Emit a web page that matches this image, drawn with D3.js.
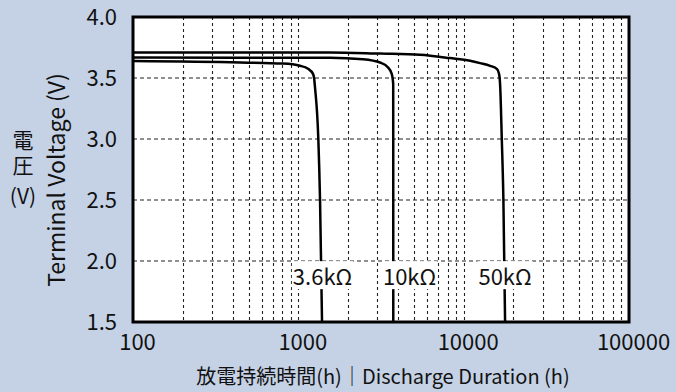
<!DOCTYPE html>
<html><head><meta charset="utf-8">
<script src="https://cdn.jsdelivr.net/npm/d3@7"></script>
<style>
html,body{margin:0;padding:0;background:#c5d1e5;}
svg{display:block;}
text{font-family:"Noto Sans CJK JP","Noto Sans",sans-serif;fill:#111;}
</style></head><body>
<svg id="c" width="676" height="392"></svg>
<script>
// ---- data ----
const xTicks = [100, 1000, 10000, 100000];
const xTickLabels = ["100", "1000", "10000", "100000"];
const yTicks = [1.5, 2.0, 2.5, 3.0, 3.5, 4.0];
const yTickLabels = ["1.5", "2.0", "2.5", "3.0", "3.5", "4.0"];
const gridHours = [200,300,400,500,600,700,800,900,1000,2000,3000,4000,5000,6000,7000,8000,9000,10000,20000,30000,40000,50000,60000,70000,80000,90000];
const gridVolts = [2.0, 2.5, 3.0, 3.5];
const seriesNames = ["3.6kΩ", "10kΩ", "50kΩ"];
const hours36k = [100, 444, 808, 1024, 1145, 1227, 1245, 1262, 1321, 1353, 1391];
const volts36k = [3.640, 3.628, 3.618, 3.600, 3.575, 3.534, 3.500, 3.420, 3.000, 2.500, 1.500];
const hours10k = [100, 444, 1555, 2463, 3121, 3488, 3673, 3748, 3750, 3752];
const volts10k = [3.669, 3.667, 3.667, 3.654, 3.627, 3.586, 3.534, 3.450, 3.000, 1.500];
const hours50k = [100, 444, 1555, 3121, 5447, 8277, 10932, 12568, 14443, 15924, 16375, 16606, 17006, 17390, 17806];
const volts50k = [3.710, 3.710, 3.710, 3.700, 3.690, 3.663, 3.641, 3.622, 3.600, 3.573, 3.532, 3.450, 3.000, 2.500, 1.500];
const labelHours = [1401, 4707, 17806];
const labelVolts = [1.884, 1.884, 1.884];
const xTitle = "放電持続時間(h)｜Discharge Duration (h)";
const yTitleEn = "Terminal Voltage (V)";
const yTitleJa = "電圧";
const yTitleUnit = "(V)";

// ---- layout ----
const L = 133, R = 629, T = 17, B = 322;
const svg = d3.select("#c");
const x = d3.scaleLog().domain([100, 100000]).range([L, R]);
const y = d3.scaleLinear().domain([1.5, 4.0]).range([B, T]);

svg.append("rect").attr("x", 0).attr("y", 0).attr("width", 676).attr("height", 392).attr("fill", "#c5d1e5");
svg.append("rect").attr("x", L).attr("y", T).attr("width", R - L).attr("height", B - T).attr("fill", "#fff");

// grid
svg.append("g").selectAll("line").data(gridVolts).join("line")
  .attr("x1", L).attr("x2", R).attr("y1", d => y(d)).attr("y2", d => y(d))
  .attr("stroke", "#6b6b6b").attr("stroke-width", 1.3).attr("stroke-dasharray", "4,3");
svg.append("g").selectAll("line").data(gridHours).join("line")
  .attr("x1", d => Math.round(x(d)) + 0.5).attr("x2", d => Math.round(x(d)) + 0.5)
  .attr("y1", T).attr("y2", B)
  .attr("stroke", "#222").attr("stroke-width", 1.1).attr("stroke-dasharray", "3,3");

// curves
const series = [
  hours36k.map((h, i) => [h, volts36k[i]]),
  hours10k.map((h, i) => [h, volts10k[i]]),
  hours50k.map((h, i) => [h, volts50k[i]])
];
const line = d3.line().x(d => x(d[0])).y(d => y(d[1])).curve(d3.curveMonotoneX);
svg.append("defs").append("clipPath").attr("id", "clip")
  .append("rect").attr("x", L).attr("y", T).attr("width", R - L).attr("height", B - T);
svg.append("g").attr("clip-path", "url(#clip)").selectAll("path").data(series).join("path")
  .attr("d", line).attr("fill", "none").attr("stroke", "#000").attr("stroke-width", 2.5)
  .attr("stroke-linejoin", "round");

// curve labels with white boxes
const lg = svg.append("g");
seriesNames.forEach((name, i) => {
  const g = lg.append("g");
  const t = g.append("text").attr("x", x(labelHours[i])).attr("y", y(labelVolts[i]))
    .attr("text-anchor", "middle").attr("dominant-baseline", "central")
    .attr("font-size", 22).text(name);
  const bb = t.node().getBBox();
  g.insert("rect", "text").attr("x", bb.x - 1).attr("y", bb.y + 2).attr("width", bb.width + 2)
    .attr("height", bb.height - 4).attr("fill", "#fff");
});

// border
svg.append("rect").attr("x", L).attr("y", T).attr("width", R - L).attr("height", B - T)
  .attr("fill", "none").attr("stroke", "#000").attr("stroke-width", 3);

// axes tick labels
const xa = svg.append("g").attr("transform", `translate(0,${B})`)
  .call(d3.axisBottom(x).tickValues(xTicks).tickFormat((d, i) => xTickLabels[i]).tickSize(0).tickPadding(12));
xa.select(".domain").remove();
xa.selectAll("text").attr("font-size", 22).attr("dx", 4).attr("font-family", null).attr("fill", "#111");
const ya = svg.append("g").attr("transform", `translate(${L},0)`)
  .call(d3.axisLeft(y).tickValues(yTicks).tickFormat((d, i) => yTickLabels[i]).tickSize(0).tickPadding(16));
ya.select(".domain").remove();
ya.selectAll("text").attr("font-size", 22).attr("font-family", null).attr("fill", "#111");

// titles
svg.append("text").attr("x", 383).attr("y", 384).attr("text-anchor", "middle")
  .attr("font-size", 20).text(xTitle);
svg.append("text").attr("transform", "translate(65,180) rotate(-90)").attr("text-anchor", "middle")
  .attr("font-size", 23).text(yTitleEn);
svg.append("text").attr("x", 23).attr("y", 130)
  .style("writing-mode", "vertical-rl").style("text-orientation", "upright")
  .attr("letter-spacing", 4).attr("font-size", 21).text(yTitleJa);
svg.append("text").attr("x", 23).attr("y", 204).attr("text-anchor", "middle")
  .attr("font-size", 21).text(yTitleUnit);
</script></body></html>
